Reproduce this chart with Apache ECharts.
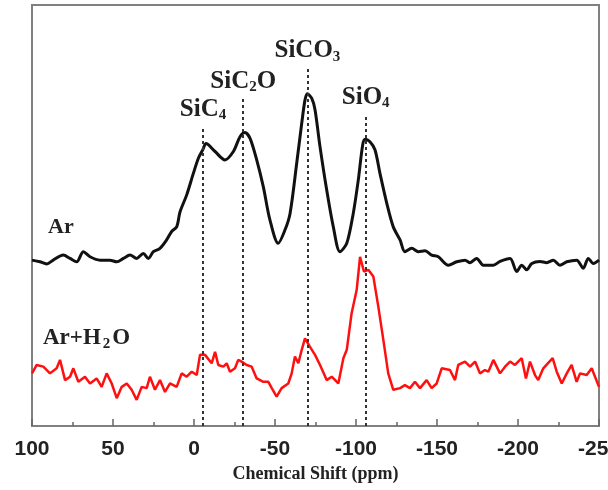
<!DOCTYPE html>
<html>
<head>
<meta charset="utf-8">
<script src="https://cdn.jsdelivr.net/npm/echarts@6/dist/echarts.min.js"></script>
<style>
  html, body { margin: 0; padding: 0; background: #fff; }
</style>
</head>
<body>
<div id="nmr" style="width: 608px;height:490px;"></div>
<script>
// chemical shift (ppm) / intensity (a.u., offset stacked)
var arShift = [100, 95.1, 90.9, 86.9, 80.7, 76.5, 72.4, 68.3, 64.2, 58.0, 51.9, 47.7, 43.6, 39.5, 35.4, 31.3, 28.2, 25.1, 21.0, 16.9, 13.8, 10.7, 8.6, 4.5, 0.4, -2.7, -5.4, -7.4, -13.0, -19.1, -24.3, -28.4, -31.5, -34.6, -38.7, -42.8, -46.9, -52.0, -56.2, -59.3, -63.4, -66.5, -68.5, -69.9, -72.7, -74.7, -77.8, -81.9, -86.0, -90.1, -94.3, -98.3, -101.4, -104.1, -105.6, -108.6, -111.7, -114.8, -119.0, -123.0, -127.2, -130.2, -134.4, -138.5, -142.6, -146.7, -150.8, -157.0, -162.2, -167.3, -170.4, -174.5, -178.6, -184.8, -188.9, -195.1, -199.2, -202.3, -205.4, -208.5, -213.6, -217.7, -221.8, -225.9, -230.1, -236.2, -240.3, -243.4, -246.5, -250];
var arValue = [39.4, 39.0, 38.5, 39.4, 40.6, 39.8, 39.0, 41.4, 40.2, 39.4, 39.4, 39.0, 39.8, 40.6, 39.8, 41.0, 39.8, 41.4, 42.2, 44.2, 46.2, 47.3, 50.9, 54.9, 60.0, 63.6, 65.6, 67.1, 65.2, 63.2, 65.2, 68.7, 69.7, 68.3, 63.2, 56.8, 48.9, 43.4, 46.6, 50.5, 62.4, 71.9, 77.4, 78.9, 77.8, 75.1, 66.3, 56.1, 47.3, 41.4, 43.4, 50.5, 58.4, 66.7, 68.1, 67.5, 65.6, 60.0, 52.9, 47.3, 44.2, 41.4, 42.2, 41.4, 41.6, 40.6, 40.2, 38.2, 39.0, 39.4, 38.8, 39.8, 38.2, 38.2, 39.1, 39.8, 36.7, 38.2, 37.1, 38.6, 39.1, 38.8, 39.4, 38.2, 39.0, 39.4, 37.5, 39.8, 38.6, 39.4];

var wetShift = [100, 97.1, 93.0, 88.9, 84.8, 82.7, 79.6, 76.5, 74.5, 71.4, 67.3, 64.2, 60.1, 57.0, 53.9, 50.8, 47.7, 44.6, 41.5, 38.5, 35.4, 32.3, 29.2, 27.2, 24.1, 21.0, 17.9, 14.8, 10.7, 7.6, 4.5, 1.4, -1.7, -3.7, -6.8, -10.9, -13.0, -15.0, -18.1, -20.2, -22.2, -25.3, -27.3, -29.4, -32.5, -35.6, -38.7, -42.8, -45.9, -48.0, -51.0, -54.1, -58.2, -60.3, -62.3, -64.4, -66.5, -68.5, -71.6, -74.7, -77.8, -81.9, -85.0, -89.1, -92.2, -94.3, -97.3, -100.4, -102.5, -104.9, -107.6, -110.7, -113.8, -116.9, -119.9, -123.0, -127.2, -130.2, -133.3, -136.4, -139.5, -143.6, -146.7, -149.8, -152.9, -158.0, -161.1, -163.1, -167.3, -170.4, -173.5, -176.5, -179.6, -181.7, -184.8, -188.9, -192.0, -195.1, -198.1, -202.3, -204.9, -207.4, -210.5, -212.5, -215.6, -221.4, -223.9, -227.0, -230.1, -233.1, -236.2, -238.3, -242.4, -245.5, -250];
var wetValue = [12.5, 14.5, 14.1, 12.5, 13.7, 15.7, 10.9, 11.7, 13.7, 10.5, 11.7, 10.1, 11.3, 9.3, 12.5, 10.1, 6.6, 9.3, 10.1, 8.6, 6.2, 9.3, 9.0, 11.7, 8.6, 10.9, 8.1, 10.1, 9.3, 12.5, 11.7, 12.9, 12.1, 16.9, 16.9, 14.9, 17.6, 14.5, 14.1, 14.9, 12.9, 13.7, 15.7, 15.3, 14.5, 14.1, 11.3, 10.5, 10.5, 9.0, 7.0, 9.0, 10.1, 12.5, 16.5, 14.9, 18.1, 20.8, 18.8, 16.9, 14.5, 10.9, 11.7, 10.1, 16.1, 18.1, 26.8, 32.3, 40.2, 36.7, 37.1, 35.5, 28.3, 20.4, 12.5, 8.6, 9.0, 9.7, 9.0, 10.5, 9.0, 10.9, 9.0, 10.1, 13.7, 13.3, 10.9, 14.5, 15.3, 14.1, 15.3, 12.5, 13.3, 12.9, 15.7, 12.5, 14.1, 15.3, 14.5, 16.1, 11.3, 15.3, 12.1, 10.9, 13.7, 16.1, 12.9, 10.1, 12.5, 14.5, 10.5, 12.5, 12.1, 13.7, 9.3];

// Q-site assignments
var peakName = ['{m|SiC}{s|4}', '{m|SiC}{s|2}{m|O}', '{m|SiCO}{s|3}', '{m|SiO}{s|4}'];
var peakShift = [-5.6, -30.4, -70, -106];
var dashTop = [71, 77.7, 85, 73.9];

var serif = '"Liberation Serif", "Times New Roman", serif';

var myChart = echarts.init(document.getElementById('nmr'));

var option = {
  animation: false,
  backgroundColor: '#fff',
  grid: {
    left: 32, right: 9, top: 5, bottom: 64,
    outerBoundsMode: 'none',
    containLabel: false,
    show: true,
    borderColor: '#808080',
    borderWidth: 2,
  },
  xAxis: {
    type: 'value',
    inverse: true,
    min: -250,
    max: 100,
    interval: 50,
    name: 'Chemical Shift (ppm)',
    nameLocation: 'middle',
    nameGap: 34,
    nameTextStyle: { fontFamily: serif, fontWeight: 'bold', fontSize: 18, color: '#222' },
    axisLine: { lineStyle: { color: '#808080', width: 2 } },
    axisTick: { inside: true, length: 7, lineStyle: { color: '#666', width: 1.5 } },
    minorTick: { show: true, splitNumber: 2, length: 4, lineStyle: { color: '#666', width: 1.5 } },
    splitLine: { show: false },
    axisLabel: {
      margin: 13,
      fontFamily: '"Liberation Sans", Arial, sans-serif',
      fontWeight: 'bold',
      fontSize: 21,
      color: '#222',
    },
  },
  yAxis: {
    type: 'value',
    min: 0,
    max: 100,
    show: false,
  },
  graphic: [
    {
      type: 'text', left: 48, top: 216,
      style: { text: 'Ar', font: 'bold 22px ' + serif, fill: '#222' },
    },
    {
      type: 'text', left: 43, top: 327,
      style: {
        text: '{m|Ar+H}{s|2}{m|O}',
        rich: {
          m: { fontFamily: serif, fontWeight: 'bold', fontSize: 23, lineHeight: 26, fill: '#222', color: '#222' },
          s: { fontFamily: serif, fontWeight: 'bold', fontSize: 15, lineHeight: 14, verticalAlign: 'bottom', padding: [0, 2, 0, 2], fill: '#222', color: '#222' },
        },
      },
    },
  ],
  series: [
    {
      name: 'Ar',
      type: 'line',
      showSymbol: false,
      smooth: 0.3,
      lineStyle: { color: '#111', width: 3 },
      data: arShift.map(function (x, i) { return [x, arValue[i]]; }),
      z: 3,
    },
    {
      name: 'Ar+H2O',
      type: 'line',
      showSymbol: false,
      lineStyle: { color: '#ff1010', width: 2.5 },
      data: wetShift.map(function (x, i) { return [x, wetValue[i]]; }),
      z: 3,
      markLine: {
        silent: true,
        symbol: 'none',
        z: 4,
        lineStyle: { color: '#333', type: [3, 3], width: 2 },
        label: {
          show: true,
          position: 'end',
          distance: 4,
          rich: {
            m: { fontFamily: serif, fontWeight: 'bold', fontSize: 25, lineHeight: 27, color: '#222' },
            s: { fontFamily: serif, fontWeight: 'bold', fontSize: 15, lineHeight: 14, verticalAlign: 'bottom', color: '#222' },
          },
        },
        data: peakShift.map(function (x, i) {
          return [
            { coord: [x, 0], label: { formatter: peakName[i] } },
            { coord: [x, dashTop[i]] },
          ];
        }),
      },
    },
  ],
};

myChart.setOption(option);
</script>
</body>
</html>
